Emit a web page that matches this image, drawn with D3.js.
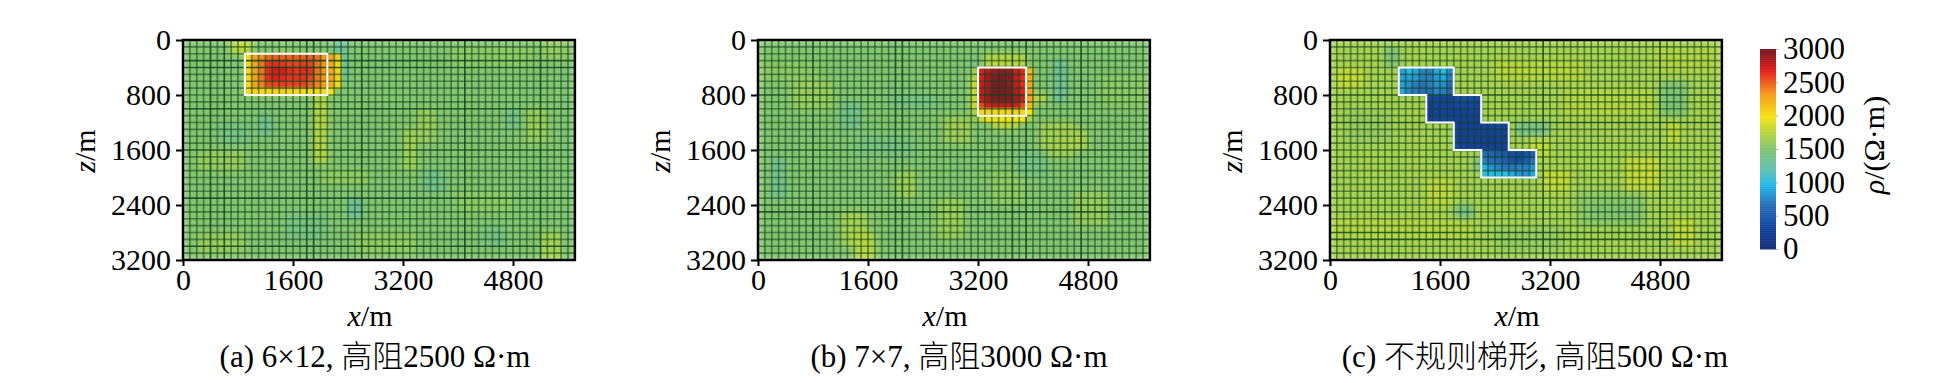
<!DOCTYPE html>
<html><head><meta charset="utf-8">
<script src="https://cdn.jsdelivr.net/npm/d3@7"></script>
<style>
html,body{margin:0;padding:0;background:#fff;overflow:hidden}
text{font-family:"Liberation Serif","Noto Sans CJK SC",serif;fill:#000}
.cjk{font-family:"Noto Sans CJK SC",sans-serif;font-weight:300}
</style></head><body>
<svg id="c" width="1937" height="383" xmlns="http://www.w3.org/2000/svg"></svg>
<script>
// ---- data ----
const xTicks = [0, 1600, 3200, 4800];
const zTicks = [0, 800, 1600, 2400, 3200];
const cbTicks = [0, 500, 1000, 1500, 2000, 2500, 3000];
const xExtent = 5700, zExtent = 3200, cellSize = 100;
const panelLefts = [183, 758, 1330];
// odd entries are CJK runs
const captions = [
  ["(a) 6×12, ", "高阻", "2500 Ω·m"],
  ["(b) 7×7, ", "高阻", "3000 Ω·m"],
  ["(c) ", "不规则梯形", ", ", "高阻", "500 Ω·m"]
];
const captionCenters = [375, 959, 1535];
const colorStops = [0, 30, 285, 685, 960, 1185, 1500, 1785, 1985, 2335, 2685, 2960, 3000];
const colorHexes = ["#1c2a6a","#18307e","#12409c","#2a72bc","#22b8ea","#62bfb4","#80c472","#c0d838","#f6e414","#f59a1c","#e41c1c","#7e1a22","#7a1a24"];

const backgrounds = [1520, 1520, 1680];
// background patches: [col0,row0,col1,row1,value], inclusive cells
const patchesA = [[22,0,23,5,1300],[7,0,9,1,1800],[11,11,12,13,1360],[24,23,25,25,1300],[35,19,37,21,1380],[47,10,48,12,1380],
  [19,8,20,17,1760],[2,16,8,18,1620],[34,10,36,14,1620],[50,10,52,14,1640],[32,13,33,18,1660],[20,19,26,20,1600],[5,12,9,14,1430],
  [39,1,50,3,1580],[52,0,55,2,1600],[40,22,47,24,1580],[2,28,8,30,1620],[25,28,33,30,1600],[15,25,20,28,1440],[44,27,46,29,1420],[52,28,54,31,1680],[14,1,15,1,1600]];
const patchesB = [[31,3,31,5,1340],[33,2,38,3,1780],[31,5,31,9,1820],[43,3,44,8,1320],[12,9,14,12,1380],[39,8,41,8,1820],[41,12,45,16,1680],[46,13,47,15,1720],
  [2,17,3,22,1380],[0,3,8,5,1570],[5,6,10,9,1620],[12,25,15,29,1680],[14,28,16,31,1760],[26,23,29,28,1640],[20,19,22,22,1650],[34,19,38,23,1590],[38,16,41,19,1420],
  [19,8,26,9,1430],[14,14,22,16,1440],[27,11,30,14,1660],[46,22,50,26,1620],[34,11,37,12,1780],[50,5,56,9,1570]];
const patchesC = [[8,1,9,3,1460],[1,4,4,6,1820],[27,12,31,13,1400],[30,13,31,15,1380],[21,17,23,18,1400],[18,24,20,26,1440],[31,19,34,21,1820],[43,17,47,21,1820],
  [49,12,50,14,1800],[48,6,51,10,1500],[47,1,56,4,1730],[34,7,46,10,1750],[36,22,45,26,1560],[50,26,52,29,1820],[0,26,20,28,1750],[24,27,33,30,1620],[14,20,17,23,1780],
  [38,24,44,25,1520],[2,10,8,14,1620],[24,3,36,5,1770],[29,14,31,16,1800]];
// anomalous cells: first col, first row, then the values row by row
const blockA = {col:9, row:2, values:[
  [2040,2300,2380,2480,2500,2500,2500,2500,2500,2500,2450,2360,2280,2080],
  [2040,2300,2440,2620,2640,2620,2580,2580,2600,2580,2440,2360,2280,2060],
  [2040,2300,2440,2660,2720,2700,2660,2620,2640,2620,2440,2360,2280,2060],
  [2040,2300,2440,2660,2700,2660,2620,2620,2620,2580,2440,2360,2280,2060],
  [2040,2300,2400,2580,2580,2600,2580,2580,2580,2500,2400,2340,2260,2040],
  [2020,2060,2040,2040,2060,2080,2060,2040,2040,2020,2040,2020,2000]]};
const blockB = {col:31, row:4, values:[
  [1650,2720,2820,2880,2920,2920,2740,2660,2200],
  [1700,2720,2860,2960,2980,2930,2760,2660,2250],
  [1800,2760,2860,2960,2980,2940,2760,2660,2300],
  [1800,2760,2880,2960,2980,2940,2820,2680,2300],
  [1800,2760,2880,2970,2980,2970,2880,2780,2280],
  [1800,2580,2720,2780,2780,2780,2740,2580,2200],
  [1700,2050,2060,2040,2050,2060,2060,2040,2000],
  [1600,1800,2000,1920,2000,2000,1950,1960,1700]]};
const blockC = {col:10, row:4, values:[
  [860,980,900,760,720,900,980,760],
  [860,860,840,740,720,840,900,720],
  [860,800,720,680,720,800,780,640],
  [900,740,700,640,640,760,720,600]]};
const blockC2 = {col:14, row:8, values:[
  [300,320,300,300,360,400,380,340],
  [260,300,300,280,340,340,320,300],
  [260,280,280,280,280,300,300,280],
  [300,320,320,300,280,280,280,260]]};
const blockC3 = {col:18, row:12, values:[
  [280,280,260,260,280,300,320,300],
  [260,240,250,250,260,280,280,280],
  [280,260,250,250,250,250,260,240],
  [340,300,280,280,260,250,250,240]]};
const blockC4 = {col:22, row:16, values:[
  [620,560,500,480,400,380,440,520],
  [720,600,580,520,420,400,500,660],
  [940,820,740,700,700,740,740,820],
  [1000,970,980,1000,900,820,800,900]]};
const blocks = [[blockA],[blockB],[blockC,blockC2,blockC3,blockC4]];
const patches = [patchesA, patchesB, patchesC];
// outlines of the model bodies in metres
const outlineA = [[900,200],[2100,200],[2100,800],[900,800]];
const outlineB = [[3200,400],[3900,400],[3900,1100],[3200,1100]];
const outlineC = [[1000,400],[1800,400],[1800,800],[2200,800],[2200,1200],[2600,1200],[2600,1600],[3000,1600],[3000,2000],[2200,2000],[2200,1600],[1800,1600],[1800,1200],[1400,1200],[1400,800],[1000,800]];
const outlines = [outlineA, outlineB, outlineC];
// grid lines that look darker in the picture (line index)
const darkColsA = [4,6,18,19,26,41,52], darkRowsA = [3,4,10,16,23,30];
const darkColsB = [8,20,21,37,39,47],  darkRowsB = [8,16,24,25];
const darkColsC = [31,48],             darkRowsC = [8,12,28,29];
const darkCols = [darkColsA, darkColsB, darkColsC];
const darkRows = [darkRowsA, darkRowsB, darkRowsC];

// ---- drawing ----
const svg = d3.select("#c");
const color = d3.scaleLinear().domain(colorStops).range(colorHexes).clamp(true);
const plotTop = 40, plotBottom = 260, pxPerM = 110 / 1600, FS = 30;
const defs = svg.append("defs");
const mkBlur = (id, s) => defs.append("filter").attr("id", id).attr("x","-3%").attr("y","-3%").attr("width","106%").attr("height","106%")
  .append("feGaussianBlur").attr("stdDeviation", s);
mkBlur("bgBlur", 3);
mkBlur("soft", 0.8);
mkBlur("meshBlur", 0.5);
mkBlur("soft2", 0.5);

panelLefts.forEach((left, p) => {
  const x = d3.scaleLinear().domain([0, xExtent]).range([left, left + xExtent * pxPerM]);
  const y = d3.scaleLinear().domain([0, zExtent]).range([plotTop, plotBottom]);
  const cid = "clip" + p;
  defs.append("clipPath").attr("id", cid).append("rect")
    .attr("x", x(0)).attr("y", y(0)).attr("width", x(xExtent) - x(0)).attr("height", y(zExtent) - y(0));

  // cell table
  const cols = d3.range(xExtent / cellSize), rows = d3.range(zExtent / cellSize);
  const grid = rows.map(() => cols.map(() => backgrounds[p]));
  patches[p].forEach(([c0, r0, c1, r1, v]) => {
    for (let r = r0; r <= r1; r++) for (let c = c0; c <= c1; c++) grid[r][c] = v;
  });
  const cells = rows.flatMap(r => cols.map(c => ({r, c, v: grid[r][c]})));
  const blockCells = blocks[p].flatMap(b => b.values.flatMap((line, i) => line.map((v, j) => ({r: b.row + i, c: b.col + j, v}))));

  const clipG = svg.append("g").attr("clip-path", `url(#${cid})`);
  const drawCells = (g, data) => g.selectAll("rect").data(data).join("rect")
    .attr("x", d => x(d.c * cellSize)).attr("y", d => y(d.r * cellSize))
    .attr("width", x(cellSize) - x(0) + 0.5).attr("height", y(cellSize) - y(0) + 0.5)
    .attr("fill", d => color(d.v));
  drawCells(clipG.append("g").attr("filter", "url(#bgBlur)"), cells);
  drawCells(clipG.append("g").attr("filter", "url(#soft)"), blockCells);
  // mesh lines
  const mesh = clipG.append("g").attr("filter", "url(#meshBlur)");
  mesh.selectAll("line.v").data(d3.range(1, cols.length)).join("line").attr("class","v")
    .attr("x1", d => x(d * cellSize)).attr("x2", d => x(d * cellSize)).attr("y1", y(0)).attr("y2", y(zExtent))
    .attr("stroke", "#0f3f20").attr("stroke-width", 1.7)
    .attr("stroke-opacity", d => darkCols[p].includes(d) ? 0.82 : 0.54);
  mesh.selectAll("line.h").data(d3.range(1, rows.length)).join("line").attr("class","h")
    .attr("y1", d => y(d * cellSize)).attr("y2", d => y(d * cellSize)).attr("x1", x(0)).attr("x2", x(xExtent))
    .attr("stroke", "#0f3f20").attr("stroke-width", 1.7)
    .attr("stroke-opacity", d => darkRows[p].includes(d) ? 0.82 : 0.54);

  // model body outline
  clipG.append("path").attr("filter", "url(#soft2)")
    .attr("d", d3.line().x(d => x(d[0])).y(d => y(d[1])).curve(d3.curveLinearClosed)(outlines[p]))
    .attr("fill", "none").attr("stroke", "#fff").attr("stroke-width", 2);

  // axes
  const ax = svg.append("g").attr("transform", `translate(0,${plotBottom})`).call(d3.axisBottom(x).tickValues(xTicks).tickSize(6).tickPadding(3).tickFormat(d3.format("d")));
  const ay = svg.append("g").attr("transform", `translate(${left},0)`).call(d3.axisLeft(y).tickValues(zTicks).tickSize(7).tickPadding(5).tickFormat(d3.format("d")));
  [ax, ay].forEach(a => {
    a.select(".domain").remove();
    a.selectAll("line").attr("stroke", "#000").attr("stroke-width", 2);
    a.selectAll("text").attr("font-size", FS).style("font-family", '"Liberation Serif"');
  });
  svg.append("rect").attr("x", x(0)).attr("y", y(0)).attr("width", x(xExtent) - x(0)).attr("height", y(zExtent) - y(0))
    .attr("fill", "none").attr("stroke", "#000").attr("stroke-width", 2.5);

  // axis titles
  const xt = svg.append("text").attr("x", x(0) + 187).attr("y", 326).attr("text-anchor", "middle").attr("font-size", FS);
  xt.append("tspan").attr("font-style", "italic").text("x");
  xt.append("tspan").text("/m");
  const zt = svg.append("text").attr("transform", `translate(${left - 88},151) rotate(-90)`).attr("text-anchor", "middle").attr("font-size", FS);
  zt.append("tspan").attr("font-style", "italic").text("z");
  zt.append("tspan").text("/m");

  // caption
  const cap = svg.append("text").attr("x", captionCenters[p]).attr("y", 367).attr("text-anchor", "middle").attr("font-size", 31);
  captions[p].forEach((run, i) => {
    cap.append("tspan").attr("class", i % 2 ? "cjk" : null).text(run);
  });
});

// colour bar
const cbScale = d3.scaleLinear().domain([0, 3000]).range([249, 49]);
const cbX = 1760, cbW = 16;
svg.append("g").selectAll("rect").data(d3.range(0, 3000, 10)).join("rect")
  .attr("x", cbX).attr("width", cbW).attr("y", d => cbScale(d + 10)).attr("height", cbScale(0) - cbScale(10) + 0.5)
  .attr("fill", d => color(d + 5));
const cbAxis = svg.append("g").attr("transform", `translate(${cbX + cbW},0)`)
  .call(d3.axisRight(cbScale).tickValues(cbTicks).tickSize(2).tickPadding(5).tickFormat(d3.format("d")));
cbAxis.select(".domain").remove();
cbAxis.selectAll("line").attr("stroke", "#aaa").attr("stroke-width", 1);
cbAxis.selectAll("text").attr("font-size", 31).style("font-family", '"Liberation Serif"');
const cbT = svg.append("text").attr("transform", "translate(1884,145) rotate(-90)").attr("text-anchor", "middle").attr("font-size", 30);
cbT.append("tspan").attr("font-style", "italic").text("ρ");
cbT.append("tspan").text("/(Ω·m)");
</script></body></html>
